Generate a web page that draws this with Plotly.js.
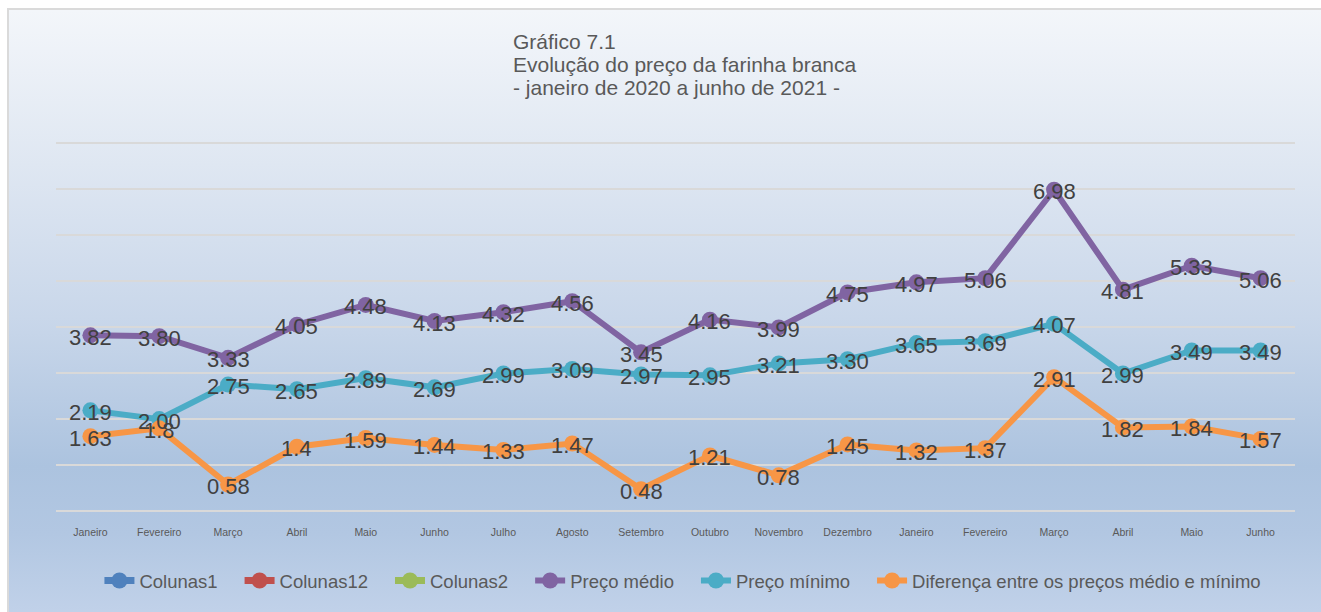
<!DOCTYPE html>
<html>
<head>
<meta charset="utf-8">
<script src="https://cdn.plot.ly/plotly-3.0.1.min.js"></script>
<style>
  html, body { margin: 0; padding: 0; background: #ffffff; width: 1321px; height: 612px; overflow: hidden; }
  #card {
    position: absolute; left: 7px; top: 8px; width: 1330px; height: 620px;
    border: 2px solid #dadada; box-sizing: border-box;
    background: linear-gradient(to bottom, #f3f6fa 0%, #dfe7f2 25%, #c9d7ea 50%, #acc3df 74%, #b2c7e2 85%, #c3d3ea 100%);
  }
  #chart { position: absolute; left: 0px; top: 0px; width: 1321px; height: 612px; }
</style>
</head>
<body>
<div id="card"></div>
<div id="chart"></div>
<script>
const months = ["Janeiro","Fevereiro","Março","Abril","Maio","Junho","Julho","Agosto","Setembro","Outubro","Novembro","Dezembro","Janeiro","Fevereiro","Março","Abril","Maio","Junho"];
const precoMedio = [3.82,3.80,3.33,4.05,4.48,4.13,4.32,4.56,3.45,4.16,3.99,4.75,4.97,5.06,6.98,4.81,5.33,5.06];
const precoMinimo = [2.19,2.00,2.75,2.65,2.89,2.69,2.99,3.09,2.97,2.95,3.21,3.30,3.65,3.69,4.07,2.99,3.49,3.49];
const diferenca = [1.63,1.8,0.58,1.4,1.59,1.44,1.33,1.47,0.48,1.21,0.78,1.45,1.32,1.37,2.91,1.82,1.84,1.57];
const emptySeries = ["Colunas1","Colunas12","Colunas2"];
const emptyColors = ["#4f81bd","#c0504d","#9bbb59"];
const titleLines = ["Gráfico 7.1","Evolução do preço da farinha branca","- janeiro de 2020 a junho de 2021 -"];

const FONT = "Liberation Sans, Arial, sans-serif";
const PAD = "\u00a0\u00a0\u00a0\u200a";
const xIdx = months.map((m, i) => i);
const labelFont = {family: FONT, size: 22, color: "#404040"};

const traces = [];
emptySeries.forEach((name, k) => {
  traces.push({
    x: [null], y: [null], name: name + PAD, type: "scatter", mode: "lines+markers",
    line: {color: emptyColors[k], width: 7}, marker: {color: emptyColors[k], size: 16},
    hoverinfo: "skip"
  });
});
function lineTrace(name, vals, color) {
  return {
    x: xIdx, y: vals, name: name, type: "scatter", mode: "lines+markers",
    line: {color: color, width: 6}, marker: {color: color, size: 16},
    cliponaxis: false
  };
}
traces.push(lineTrace("Preço médio" + PAD, precoMedio, "#8064a2"));
traces.push(lineTrace("Preço mínimo" + PAD, precoMinimo, "#4bacc6"));
traces.push(lineTrace("Diferença entre os preços médio e mínimo", diferenca, "#f79646"));

const annotations = [];
// data labels
function addLabels(vals, fmt) {
  vals.forEach((v, i) => annotations.push({
    x: i, y: v, xref: "x", yref: "y", text: fmt(v), showarrow: false,
    xanchor: "center", yanchor: "middle", yshift: -2, font: labelFont
  }));
}
addLabels(precoMedio, v => v.toFixed(2));
addLabels(precoMinimo, v => v.toFixed(2));
addLabels(diferenca, v => String(v));

// title lines (plot area: page y 140..514, 374 px, for range [-0.06, 8.06])
const titleY = [1.264, 1.2025, 1.141];
titleLines.forEach((t, i) => annotations.push({
  text: t, xref: "paper", yref: "paper", x: 0.3672, y: titleY[i],
  xanchor: "left", yanchor: "middle", showarrow: false,
  font: {family: FONT, size: 21, color: "#595959"}
}));

const layout = {
  width: 1321, height: 612,
  paper_bgcolor: "rgba(0,0,0,0)", plot_bgcolor: "rgba(0,0,0,0)",
  margin: {l: 56, r: 26, t: 140, b: 98, autoexpand: false},
  font: {family: FONT, color: "#595959"},
  annotations: annotations,
  xaxis: {
    tickmode: "array", tickvals: xIdx, ticktext: months, range: [-0.5, 17.5],
    showgrid: false, zeroline: false, showline: false,
    ticks: "outside", ticklen: 8, tickcolor: "rgba(0,0,0,0)",
    tickfont: {family: FONT, size: 10.5, color: "#595959"}, fixedrange: true
  },
  yaxis: {
    range: [-0.06, 8.06], tickmode: "array", tickvals: [0,1,2,3,4,5,6,7,8], showticklabels: false, showgrid: true,
    gridcolor: "#d9d9d9", gridwidth: 2, zeroline: false, showline: false, ticks: "", fixedrange: true
  },
  showlegend: true,
  legend: {
    orientation: "h", x: 0.506, xanchor: "center", y: -0.179, yanchor: "middle",
    font: {family: FONT, size: 18.5, color: "#595959"}, bgcolor: "rgba(0,0,0,0)", itemwidth: 30
  }
};
Plotly.newPlot("chart", traces, layout, {displayModeBar: false, staticPlot: true});
</script>
</body>
</html>
